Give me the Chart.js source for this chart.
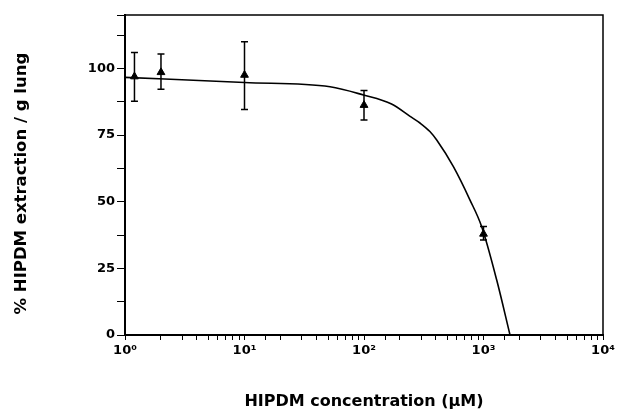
<!DOCTYPE html>
<html>
  <head>
    <title>HIPDM extraction</title>
    <script src="https://cdn.jsdelivr.net/npm/chart.js@4.4.1/dist/chart.umd.min.js"></script>
    <style>
      html, body { margin: 0; padding: 0; background: #fff; }
      #wrap { width: 618px; height: 415px; }
    </style>
  </head>
  <body>
    <div id="wrap"><canvas id="canvas"></canvas></div>
    <script>
      // measured points (µM, % extraction) with error bar ends
      const concentration = [1.2, 2, 10, 100, 1000];
      const extraction = [96.9, 98.5, 97.5, 86.2, 37.9];
      const errLow = [87.7, 92.2, 84.6, 80.6, 35.6];
      const errHigh = [105.9, 105.4, 110, 91.7, 40.7];

      // fitted curve
      const curveX = [1, 10, 52, 99, 170, 243, 294, 356, 406, 560, 771, 966, 1290, 1667];
      const curveY = [96.6, 94.7, 93.1, 90.0, 86.6, 82.0, 79.5, 76.3, 73.1, 63.1, 50.6, 40.6, 20.6, 0];

      const yTicks = [0, 25, 50, 75, 100];
      const sup = { 0: '⁰', 1: '¹', 2: '²', 3: '³', 4: '⁴' };

      const pts = concentration.map((x, i) => ({ x, y: extraction[i] }));
      const curve = curveX.map((x, i) => ({ x, y: curveY[i] }));

      // frame round the plot + error bars from the scales
      const extras = {
        id: 'extras',
        afterDatasetsDraw(chart) {
          const { ctx, chartArea: a, scales } = chart;
          ctx.save();
          ctx.strokeStyle = '#000';
          ctx.lineWidth = 1.5;
          ctx.beginPath();
          ctx.moveTo(a.left, a.top);
          ctx.lineTo(a.right, a.top);
          ctx.lineTo(a.right, a.bottom);
          ctx.stroke();
          concentration.forEach((c, i) => {
            const x = scales.x.getPixelForValue(c);
            const y1 = scales.y.getPixelForValue(errLow[i]);
            const y2 = scales.y.getPixelForValue(errHigh[i]);
            ctx.beginPath();
            ctx.moveTo(x, y1); ctx.lineTo(x, y2);
            ctx.moveTo(x - 3.5, y1); ctx.lineTo(x + 3.5, y1);
            ctx.moveTo(x - 3.5, y2); ctx.lineTo(x + 3.5, y2);
            ctx.stroke();
          });
          ctx.restore();
        }
      };

      new Chart(document.getElementById('canvas'), {
        type: 'scatter',
        data: {
          datasets: [
            {
              label: 'fit',
              data: curve,
              showLine: true,
              borderColor: '#000',
              borderWidth: 1.6,
              pointRadius: 0,
              cubicInterpolationMode: 'monotone'
            },
            {
              label: 'data',
              data: pts,
              pointStyle: 'triangle',
              pointRadius: 4.5,
              backgroundColor: '#000',
              borderColor: '#000'
            }
          ]
        },
        options: {
          responsive: true,
          maintainAspectRatio: false,
          animation: false,
          layout: { padding: { top: 15, right: 15, left: 0, bottom: 0 } },
          plugins: { legend: { display: false }, tooltip: { enabled: false } },
          scales: {
            x: {
              type: 'logarithmic',
              min: 1,
              max: 10000,
              border: { color: '#000', width: 2 },
              grid: { drawOnChartArea: false, color: '#000', tickLength: 5 },
              ticks: {
                color: '#000',
                font: { family: 'DejaVu Sans', weight: 'bold', size: 13 },
                maxRotation: 0,
                autoSkip: false,
                callback(v) {
                  const e = Math.log10(v);
                  return Number.isInteger(e) ? '10' + sup[e] : '';
                }
              },
              title: {
                display: true,
                text: 'HIPDM concentration (µM)',
                color: '#000',
                font: { family: 'DejaVu Sans', weight: 'bold', size: 16 },
                padding: { top: 16 }
              },
              afterFit(s) { s.height = 80; }
            },
            y: {
              min: 0,
              max: 120,
              border: { color: '#000', width: 2 },
              grid: { drawOnChartArea: false, color: '#000', tickLength: 8 },
              ticks: {
                stepSize: 12.5,
                padding: 2,
                color: '#000',
                font: { family: 'DejaVu Sans', weight: 'bold', size: 13 },
                callback(v) { return yTicks.includes(v) ? v : ''; }
              },
              title: {
                display: true,
                text: '% HIPDM extraction / g lung   ',
                color: '#000',
                font: { family: 'DejaVu Sans', weight: 'bold', size: 16.5 },
                padding: { top: 12, bottom: 30 }
              },
              afterFit(s) { s.width = 125; }
            }
          }
        },
        plugins: [extras]
      });
    </script>
  </body>
</html>
